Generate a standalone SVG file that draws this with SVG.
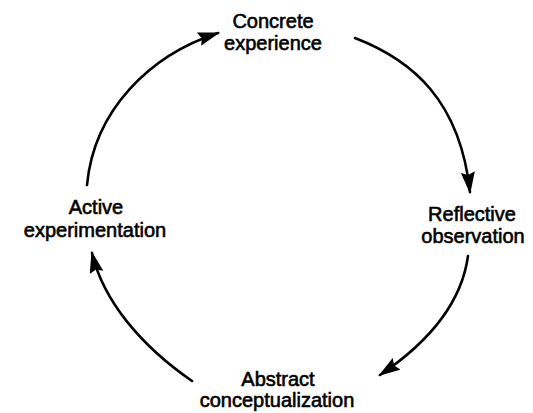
<svg xmlns="http://www.w3.org/2000/svg" width="533" height="413" viewBox="0 0 533 413">
  <style>
    .label { font-family: "Liberation Sans", Arial, sans-serif; font-size: 20px; fill: #000; text-anchor: middle; stroke: #000; stroke-width: 0.6; }
    .arc { fill: none; stroke: #000; stroke-width: 2.6; stroke-linecap: round; }
  </style>
  <defs>
    <marker id="head" viewBox="0 0 22 14" refX="20" refY="7" markerWidth="22" markerHeight="14" markerUnits="userSpaceOnUse" orient="auto">
      <path d="M0,0 L22,7 L0,14 L3,7 Z" fill="#000"/>
    </marker>
  </defs>
  <rect width="533" height="413" fill="#fff"/>

  <!-- cycle connectors -->
  <g id="connectors">
    <path class="arc" d="M355,38 C412,60 460,100 470,192" marker-end="url(#head)"/>
    <path class="arc" d="M468,256 C462,300 432,340 380,375" marker-end="url(#head)"/>
    <path class="arc" d="M192,381 C140,345 103,300 92,253" marker-end="url(#head)"/>
    <path class="arc" d="M87,185 C94,110 150,55 218,33" marker-end="url(#head)"/>
  </g>

  <g id="concrete-experience">
    <text class="label" x="273" y="28">Concrete</text>
    <text class="label" x="273" y="50">experience</text>
  </g>
  <g id="reflective-observation">
    <text class="label" x="472" y="221">Reflective</text>
    <text class="label" x="473" y="243">observation</text>
  </g>
  <g id="abstract-conceptualization">
    <text class="label" x="278" y="386">Abstract</text>
    <text class="label" x="277" y="407">conceptualization</text>
  </g>
  <g id="active-experimentation">
    <text class="label" x="96" y="214">Active</text>
    <text class="label" x="95" y="237">experimentation</text>
  </g>
</svg>
